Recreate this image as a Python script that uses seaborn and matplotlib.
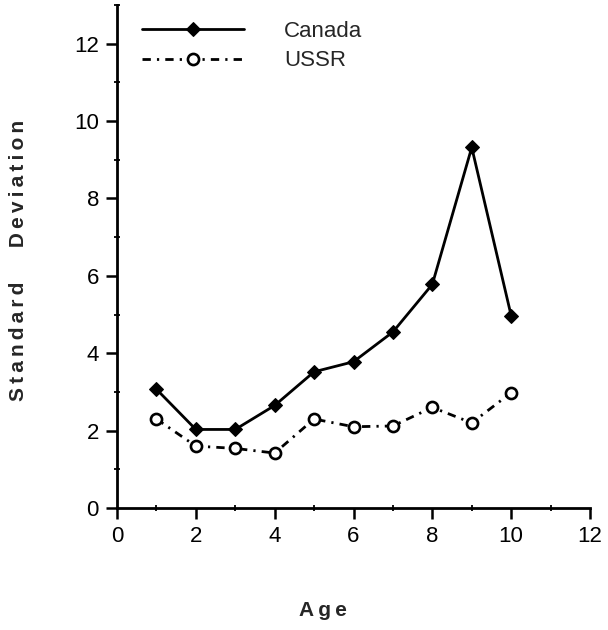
import matplotlib
matplotlib.use("Agg")
import matplotlib.pyplot as plt
import seaborn as sns
import pandas as pd
from matplotlib.ticker import MultipleLocator

ages = [1, 2, 3, 4, 5, 6, 7, 8, 9, 10]
canada_sd = [3.07, 2.03, 2.03, 2.65, 3.52, 3.78, 4.55, 5.78, 9.32, 4.97]
ussr_sd = [2.3, 1.6, 1.54, 1.42, 2.3, 2.1, 2.12, 2.6, 2.2, 2.98]
x_ticks = [0, 2, 4, 6, 8, 10, 12]
y_ticks = [0, 2, 4, 6, 8, 10, 12]

sns.set_theme(style="ticks")
plt.rcParams["font.family"] = ["Liberation Sans", "DejaVu Sans"]


def spaced(text):
    # open up the letters with thin spaces
    return "\u2009".join(text)


canada = pd.DataFrame({"Age": ages, "SD": canada_sd})
ussr = pd.DataFrame({"Age": ages, "SD": ussr_sd})

fig = plt.figure(figsize=(6.08, 6.30), dpi=100)
ax = fig.add_axes([117 / 608, 122 / 630, 473 / 608, 503 / 630])

sns.lineplot(data=canada, x="Age", y="SD", ax=ax, color="black",
             linewidth=2.0, marker="D", markersize=7, markerfacecolor="black",
             markeredgecolor="black", label="Canada")
sns.lineplot(data=ussr, x="Age", y="SD", ax=ax, color="black",
             linewidth=2.0, linestyle=(0, (3, 2.2, 0.8, 2.2)), marker="o",
             markersize=8, markerfacecolor="white", markeredgecolor="black",
             markeredgewidth=1.9, label="USSR")

ax.set_xlim(0, 12)
ax.set_ylim(0, 13)
ax.set_xticks(x_ticks)
ax.set_yticks(y_ticks)
ax.xaxis.set_minor_locator(MultipleLocator(1))
ax.yaxis.set_minor_locator(MultipleLocator(1))
ax.tick_params(axis="both", which="major", direction="out", length=8,
               width=1.8, color="black", labelsize=16, labelcolor="black", pad=5)
ax.tick_params(axis="both", which="minor", direction="inout", length=5,
               width=1.3, color="black")
ax.spines["top"].set_visible(False)
ax.spines["right"].set_visible(False)
for side in ("left", "bottom"):
    ax.spines[side].set_linewidth(2.0)
    ax.spines[side].set_color("black")

ax.set_xlabel("")
ax.set_ylabel(spaced("Standard") + "      " + spaced("Deviation"),
              fontsize=15, fontweight="bold")
ax.yaxis.set_label_coords(-0.189, 0.493)
fig.text(323 / 608, 1 - 611 / 630, spaced("Age"), fontsize=15,
         fontweight="bold", ha="center", va="center")

leg = ax.legend(loc="upper left", bbox_to_anchor=(0.02, 1.0), frameon=False,
                fontsize=16, handlelength=4.6, handletextpad=1.8,
                labelspacing=0.4, borderpad=0.2)
for line in leg.get_lines():
    line.set_linewidth(2.0)

fig.savefig("out.png", dpi=100, facecolor="white")
